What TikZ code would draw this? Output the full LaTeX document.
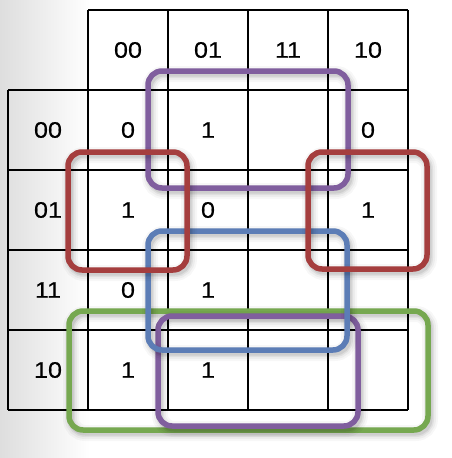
\documentclass[tikz,border=0pt]{standalone}
\usepackage{fontspec}
\setmainfont{Liberation Sans}
\newfontfamily\klabelfont[FakeStretch=1.12,FakeBold=0.4]{Liberation Sans}
\definecolor{kpurple}{RGB}{128,94,158}
\definecolor{kred}{RGB}{165,62,62}
\definecolor{kblue}{RGB}{92,125,182}
\definecolor{kgreen}{RGB}{118,168,80}
\newcommand\kgroup[3]{%
  \foreach \w/\o in {16/0.03,12/0.04,8/0.06,5/0.08}{%
    \draw[line width=\w pt, opacity=\o, black, rounded corners=14pt, shift={(2,3)}] #2 rectangle #3;}
  \draw[line width=5.5pt, #1, rounded corners=14pt] #2 rectangle #3;}
\begin{document}
\begin{tikzpicture}[x=1pt,y=-1pt,
  gridline/.style={line width=2pt, black},
  lbl/.style={font=\klabelfont\fontsize{22.5}{26}\selectfont, inner sep=0pt, anchor=center}]
\useasboundingbox (0,0) rectangle (452,458);
\shade[left color=black!13, right color=white] (0,0) rectangle (90,458);
% grid
\draw[gridline] (88,10) -- (408,10);
\foreach \y in {90,170,250,330,410} \draw[gridline] (8,\y) -- (408,\y);
\draw[gridline] (8,90) -- (8,410);
\foreach \x in {88,168,248,328,408} \draw[gridline] (\x,10) -- (\x,410);
% column headers
\node[lbl] (h00) at (128,50) {00};
\node[lbl] (h01) at (208,50) {01};
\node[lbl] (h11) at (288,50) {11};
\node[lbl] (h10) at (368,50) {10};
% row headers
\node[lbl] (r00) at (48,130) {00};
\node[lbl] (r01) at (48,210) {01};
\node[lbl] (r11) at (48,290) {11};
\node[lbl] (r10) at (48,370) {10};
% cells
\node[lbl] (a1) at (128,130) {0};
\node[lbl] (a2) at (208,130) {1};
\node[lbl] (a4) at (368,130) {0};
\node[lbl] (b1) at (128,210) {1};
\node[lbl] (b2) at (208,210) {0};
\node[lbl] (b4) at (368,210) {1};
\node[lbl] (c1) at (128,290) {0};
\node[lbl] (c2) at (208,290) {1};
\node[lbl] (d1) at (128,370) {1};
\node[lbl] (d2) at (208,370) {1};
% groups
\kgroup{kgreen}{(69,311)}{(428,430)}
\kgroup{kpurple}{(158,316)}{(358,426)}
\kgroup{kpurple}{(148,71)}{(348,188)}
\kgroup{kblue}{(148,231)}{(347,350)}
\kgroup{kred}{(68,152)}{(187,270)}
\kgroup{kred}{(308,152)}{(427,269)}
\end{tikzpicture}
\end{document}
